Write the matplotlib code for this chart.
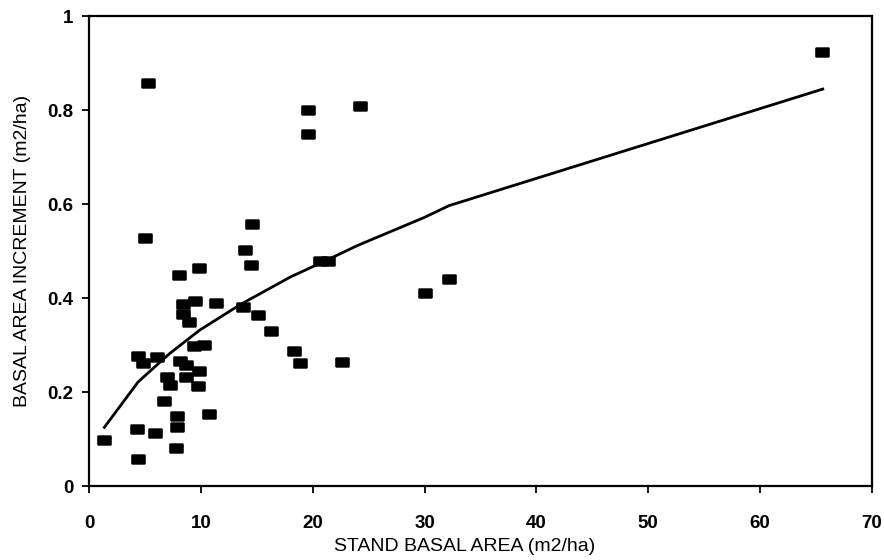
import matplotlib
matplotlib.use("Agg")
import matplotlib.pyplot as plt
from matplotlib.path import Path

# Observed data points (stand basal area, basal area increment)
stand_ba = [1.37, 4.35, 4.29, 5.9, 7.77, 7.89, 7.84, 10.75, 6.7, 9.71,
            8.64, 9.86, 6.94, 7.24, 8.13, 8.67, 4.41, 4.85, 6.05, 9.41,
            10.3, 8.96, 8.37, 8.37, 9.47, 11.35, 8.07, 9.86, 5.0, 14.6,
            13.94, 14.48, 13.79, 15.13, 16.24, 20.64, 21.38, 32.2, 30.0, 18.35,
            18.86, 22.6, 5.3, 19.6, 19.6, 24.2, 65.57]
ba_incr = [0.099, 0.057, 0.122, 0.114, 0.080, 0.126, 0.150, 0.153, 0.182, 0.212,
           0.232, 0.245, 0.233, 0.215, 0.267, 0.258, 0.277, 0.261, 0.274, 0.298,
           0.301, 0.350, 0.366, 0.387, 0.394, 0.390, 0.450, 0.464, 0.528, 0.558,
           0.503, 0.470, 0.381, 0.364, 0.331, 0.478, 0.480, 0.441, 0.410, 0.288,
           0.261, 0.265, 0.857, 0.800, 0.750, 0.810, 0.924]

# Fitted curve vertices
fit_x = [1.37, 4.4, 7.2, 9.9, 13.5, 18.0, 21.0, 24.0, 30.0, 32.2, 65.6]
fit_y = [0.125, 0.222, 0.282, 0.332, 0.386, 0.445, 0.478, 0.512, 0.572, 0.597, 0.845]

x_ticks = [0, 10, 20, 30, 40, 50, 60, 70]
y_ticks = [0, 0.2, 0.4, 0.6, 0.8, 1.0]
y_tick_labels = ["0", "0.2", "0.4", "0.6", "0.8", "1"]

plt.rcParams['font.family'] = ['Liberation Sans', 'DejaVu Sans']

fig = plt.figure(figsize=(8.84, 5.6), dpi=100)
ax = fig.add_axes([0.1007, 0.132, 0.8857, 0.839])

# rounded rectangle marker, wider than tall
w, h, r = 1.4, 1.0, 0.25
verts = [(-w + r, -h), (w - r, -h), (w, -h), (w, -h + r), (w, h - r), (w, h),
         (w - r, h), (-w + r, h), (-w, h), (-w, h - r), (-w, -h + r), (-w, -h),
         (-w + r, -h), (-w + r, -h)]
codes = [Path.MOVETO, Path.LINETO, Path.CURVE3, Path.CURVE3, Path.LINETO,
         Path.CURVE3, Path.CURVE3, Path.LINETO, Path.CURVE3, Path.CURVE3,
         Path.LINETO, Path.CURVE3, Path.CURVE3, Path.CLOSEPOLY]
rmarker = Path(verts, codes)

ax.plot(stand_ba, ba_incr, linestyle='none', marker=rmarker, markersize=10.5,
        color='black', markeredgewidth=0, zorder=3)
ax.plot(fit_x, fit_y, color='black', linewidth=2.0, zorder=2)

ax.set_xlim(0, 70)
ax.set_ylim(0, 1)
ax.set_xticks(x_ticks)
ax.set_xticklabels([str(v) for v in x_ticks])
ax.set_yticks(y_ticks)
ax.set_yticklabels(y_tick_labels)

for s in ax.spines.values():
    s.set_linewidth(1.6)

ax.tick_params(axis='x', direction='out', length=5, width=1.3, pad=16,
               labelsize=13.5)
ax.tick_params(axis='y', direction='out', length=5, width=1.3, pad=6,
               labelsize=13.5)
for lab in ax.get_xticklabels() + ax.get_yticklabels():
    lab.set_fontweight('bold')

ax.set_xlabel("STAND BASAL AREA (m2/ha)", fontsize=14)
ax.xaxis.set_label_coords(0.48, -0.111)
ax.set_ylabel("BASAL AREA INCREMENT (m2/ha)", fontsize=14, labelpad=12)

fig.savefig("out.png", dpi=100)
